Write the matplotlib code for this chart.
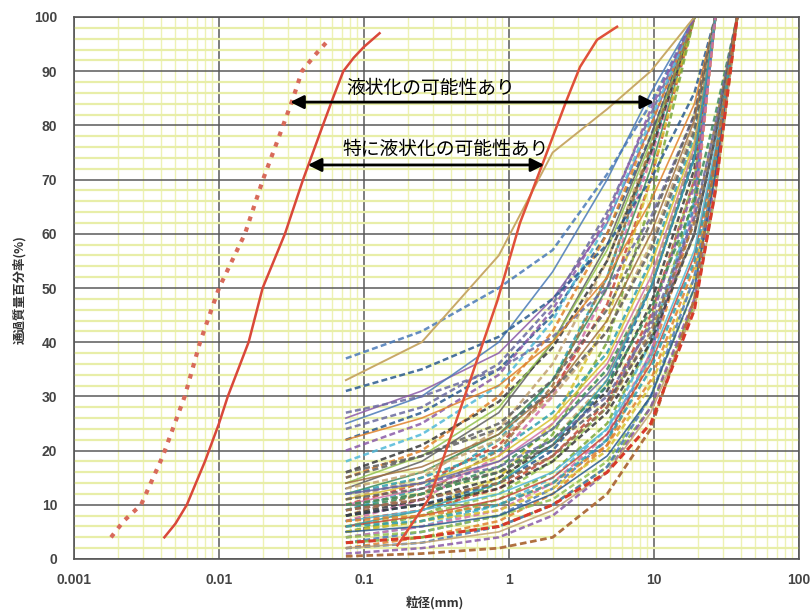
import matplotlib
matplotlib.use("Agg")
import matplotlib.pyplot as plt
from matplotlib.ticker import LogLocator, MultipleLocator, FixedLocator, FixedFormatter, NullFormatter

plt.rcParams['font.family'] = ['Noto Sans CJK JP', 'DejaVu Sans']

# sieve sizes (mm)
sieves = [0.075, 0.25, 0.85, 2.0, 4.75, 9.5, 19.0, 26.5, 37.5]

# passing percentage at each sieve; a curve stops where it reaches 100
group_19 = [
    [37, 42, 50, 57, 71, 84, 100],
    [26, 31, 38, 48, 62, 80, 100],
    [22, 27, 35, 45, 60, 78, 100],
    [24, 28, 36, 47, 64, 82, 100],
    [15, 20, 30, 42, 60, 80, 100],
    [13, 18, 27, 40, 58, 78, 100],
    [11, 15, 24, 36, 55, 76, 100],
    [9, 13, 22, 33, 52, 75, 100],
    [7, 11, 19, 30, 50, 74, 100],
    [12, 16, 23, 33, 50, 72, 100],
    [16, 21, 29, 39, 55, 75, 100],
    [10, 14, 21, 31, 47, 70, 100],
    [6, 9, 15, 25, 44, 70, 100],
    [14, 19, 28, 40, 57, 77, 100],
    [5, 8, 14, 23, 40, 66, 100],
    [18, 23, 32, 44, 62, 81, 100],
    [8, 12, 20, 32, 52, 76, 100],
    [25, 30, 40, 53, 70, 86, 100],
    [20, 25, 34, 46, 63, 83, 100],
]

group_26 = [
    [31, 35, 41, 48, 58, 70, 86, 100],
    [27, 30, 35, 41, 50, 63, 82, 100],
    [22, 26, 32, 40, 52, 66, 84, 100],
    [15, 19, 25, 33, 46, 62, 82, 100],
    [13, 16, 22, 30, 42, 58, 80, 100],
    [12, 15, 20, 27, 38, 55, 78, 100],
    [10, 13, 18, 25, 36, 52, 76, 100],
    [9, 12, 17, 24, 35, 50, 74, 100],
    [8, 11, 15, 21, 31, 47, 72, 100],
    [7, 9, 13, 19, 29, 45, 70, 100],
    [11, 14, 19, 26, 37, 54, 77, 100],
    [6, 8, 12, 18, 28, 44, 70, 100],
    [5, 7, 11, 16, 25, 40, 67, 100],
    [4, 6, 10, 15, 24, 40, 66, 100],
    [14, 17, 23, 31, 44, 60, 81, 100],
    [3, 5, 8, 13, 22, 38, 65, 100],
    [9, 11, 14, 19, 28, 44, 69, 100],
    [8, 10, 14, 20, 32, 50, 75, 100],
    [12, 14, 18, 24, 34, 50, 74, 100],
    [2, 4, 7, 12, 21, 37, 63, 100],
    [16, 19, 24, 31, 42, 57, 79, 100],
    [10, 12, 16, 22, 33, 51, 76, 100],
    [6, 9, 14, 21, 33, 50, 74, 100],
    [4, 6, 9, 14, 23, 38, 64, 100],
]

group_37 = [
    [10, 12, 16, 22, 32, 46, 66, 82, 100],
    [8, 10, 13, 18, 27, 40, 60, 78, 100],
    [6, 8, 11, 15, 23, 36, 56, 75, 100],
    [5, 7, 9, 13, 20, 32, 52, 72, 100],
    [4, 5, 8, 11, 18, 30, 50, 71, 100],
    [3, 4, 6, 10, 17, 28, 47, 68, 100],
    [7, 9, 12, 16, 24, 37, 57, 76, 100],
    [9, 11, 14, 19, 28, 42, 62, 80, 100],
    [2, 3, 6, 10, 17, 30, 52, 72, 100],
    [1, 2, 4, 8, 16, 28, 48, 70, 100],
    [5, 6, 8, 12, 19, 30, 50, 71, 100],
    [12, 14, 17, 22, 30, 43, 63, 80, 100],
    [7, 8, 10, 14, 21, 33, 54, 74, 100],
    [11, 13, 16, 21, 29, 41, 60, 78, 100],
    [2, 3, 5, 9, 16, 27, 46, 67, 100],
    [6, 7, 10, 14, 22, 35, 55, 74, 100],
]

# single curves with their own colour in the picture
tan_vals = [33, 40, 56, 75, 83, 90, 100]
brown_vals = [0.5, 1, 2, 4, 12, 24, 48, 74, 100]
red_dash_vals = [3, 4, 6, 10, 16, 25, 46, 68, 100]

# boundary curves
dot_x = [0.0018, 0.0022, 0.0029, 0.0041, 0.0058, 0.0074, 0.01, 0.0151, 0.0201, 0.026, 0.0324, 0.0373, 0.046, 0.058]
dot_y = [4, 7, 10, 19, 30, 40, 50, 60, 70, 78, 85, 90, 93, 96]
left_x = [0.0042, 0.005, 0.006, 0.008, 0.01, 0.0115, 0.016, 0.02, 0.0285, 0.038, 0.052, 0.061, 0.072, 0.085, 0.1, 0.128]
left_y = [4, 6.5, 10, 18, 25, 30, 40, 50, 60, 70, 80, 85, 90, 92.5, 94.5, 97]
right_x = [0.17, 0.285, 0.48, 0.83, 1.19, 1.71, 2.5, 3.09, 4.05, 5.56]
right_y = [2.5, 11.4, 29, 47.6, 62, 73, 84.7, 90.8, 95.8, 98.2]

palette = ['#4a7ab8', '#2f9fb0', '#7aa83a', '#e0822c', '#c84a3a', '#8a5aa8',
           '#d070a8', '#50b8d8', '#606060', '#d8c030', '#2a5a90', '#3a8a5a',
           '#a07040', '#c0a070', '#90c050', '#6a6aa0', '#3a3a3a']

fig = plt.figure(figsize=(8.1, 6.12), dpi=100)
ax = fig.add_axes([74 / 810, 1 - 559 / 612, 725 / 810, 542 / 612])

ax.set_xscale('log')
ax.set_xlim(0.001, 100)
ax.set_ylim(0, 100)

ax.xaxis.set_major_locator(FixedLocator([0.001, 0.01, 0.1, 1, 10, 100]))
ax.xaxis.set_major_formatter(FixedFormatter(['0.001', '0.01', '0.1', '1', '10', '100']))
ax.xaxis.set_minor_locator(LogLocator(base=10, subs=range(2, 10), numticks=20))
ax.xaxis.set_minor_formatter(NullFormatter())
ax.yaxis.set_major_locator(MultipleLocator(10))
ax.yaxis.set_minor_locator(MultipleLocator(2))

ax.set_axisbelow(True)
ax.grid(which='minor', axis='x', color='#eef2b4', lw=1.0)
ax.grid(which='minor', axis='y', color='#e8eea8', lw=1.6)
ax.grid(which='major', color='#5a5a5a', lw=1.1)

all_curves = group_19 + group_26 + group_37
for i, vals in enumerate(all_curves):
    c = palette[(i * 5) % len(palette)]
    if i % 4 == 1:
        ax.plot(sieves[:len(vals)], vals, color=c, lw=1.2, alpha=0.85)
    else:
        ax.plot(sieves[:len(vals)], vals, color=c, lw=1.8, alpha=0.85,
                dashes=(2.4, 1.3))

ax.plot(sieves[:len(tan_vals)], tan_vals, color='#c8a868', lw=1.4)
ax.plot(sieves, brown_vals, color='#b07040', lw=2.0, dashes=(2.4, 1.3))
ax.plot(sieves, red_dash_vals, color='#d83a2a', lw=2.2, dashes=(2.4, 1.3))

ax.plot(dot_x, dot_y, color='#d86a5a', lw=3, dashes=(1.1, 1.6))
ax.plot(left_x, left_y, color='#d9483a', lw=1.8)
ax.plot(right_x, right_y, color='#e0503a', lw=1.8)

ax.annotate('', xy=(0.031, 84.3), xytext=(10, 84.3),
            arrowprops=dict(arrowstyle='<|-|>', color='black', lw=2,
                            mutation_scale=20, shrinkA=0, shrinkB=0))
ax.annotate('', xy=(0.041, 72.7), xytext=(1.75, 72.7),
            arrowprops=dict(arrowstyle='<|-|>', color='black', lw=2,
                            mutation_scale=20, shrinkA=0, shrinkB=0))
ax.text(0.29, 86.9, '液状化の可能性あり', ha='center', va='center', fontsize=13.5)
ax.text(0.368, 75.5, '特に液状化の可能性あり', ha='center', va='center', fontsize=13.5)

for s in ax.spines.values():
    s.set_color('#555555')
    s.set_linewidth(1.2)

ax.tick_params(which='both', length=0)
ax.tick_params(axis='x', pad=10)
ax.tick_params(axis='y', pad=12)
for lab in ax.get_xticklabels() + ax.get_yticklabels():
    lab.set_family(['Liberation Sans', 'DejaVu Sans'])
    lab.set_fontsize(10)
    lab.set_fontweight('bold')
    lab.set_color('#444444')

fig.text(435 / 810, 1 - 603 / 612, '粒径(mm)', ha='center', va='center',
         fontsize=9, fontweight='bold', color='#333333')
fig.text(20 / 810, 1 - 290 / 612, '通過質量百分率(%)', ha='center', va='center',
         rotation=90, fontsize=9, fontweight='bold', color='#333333')

fig.savefig('out.png', dpi=100)
